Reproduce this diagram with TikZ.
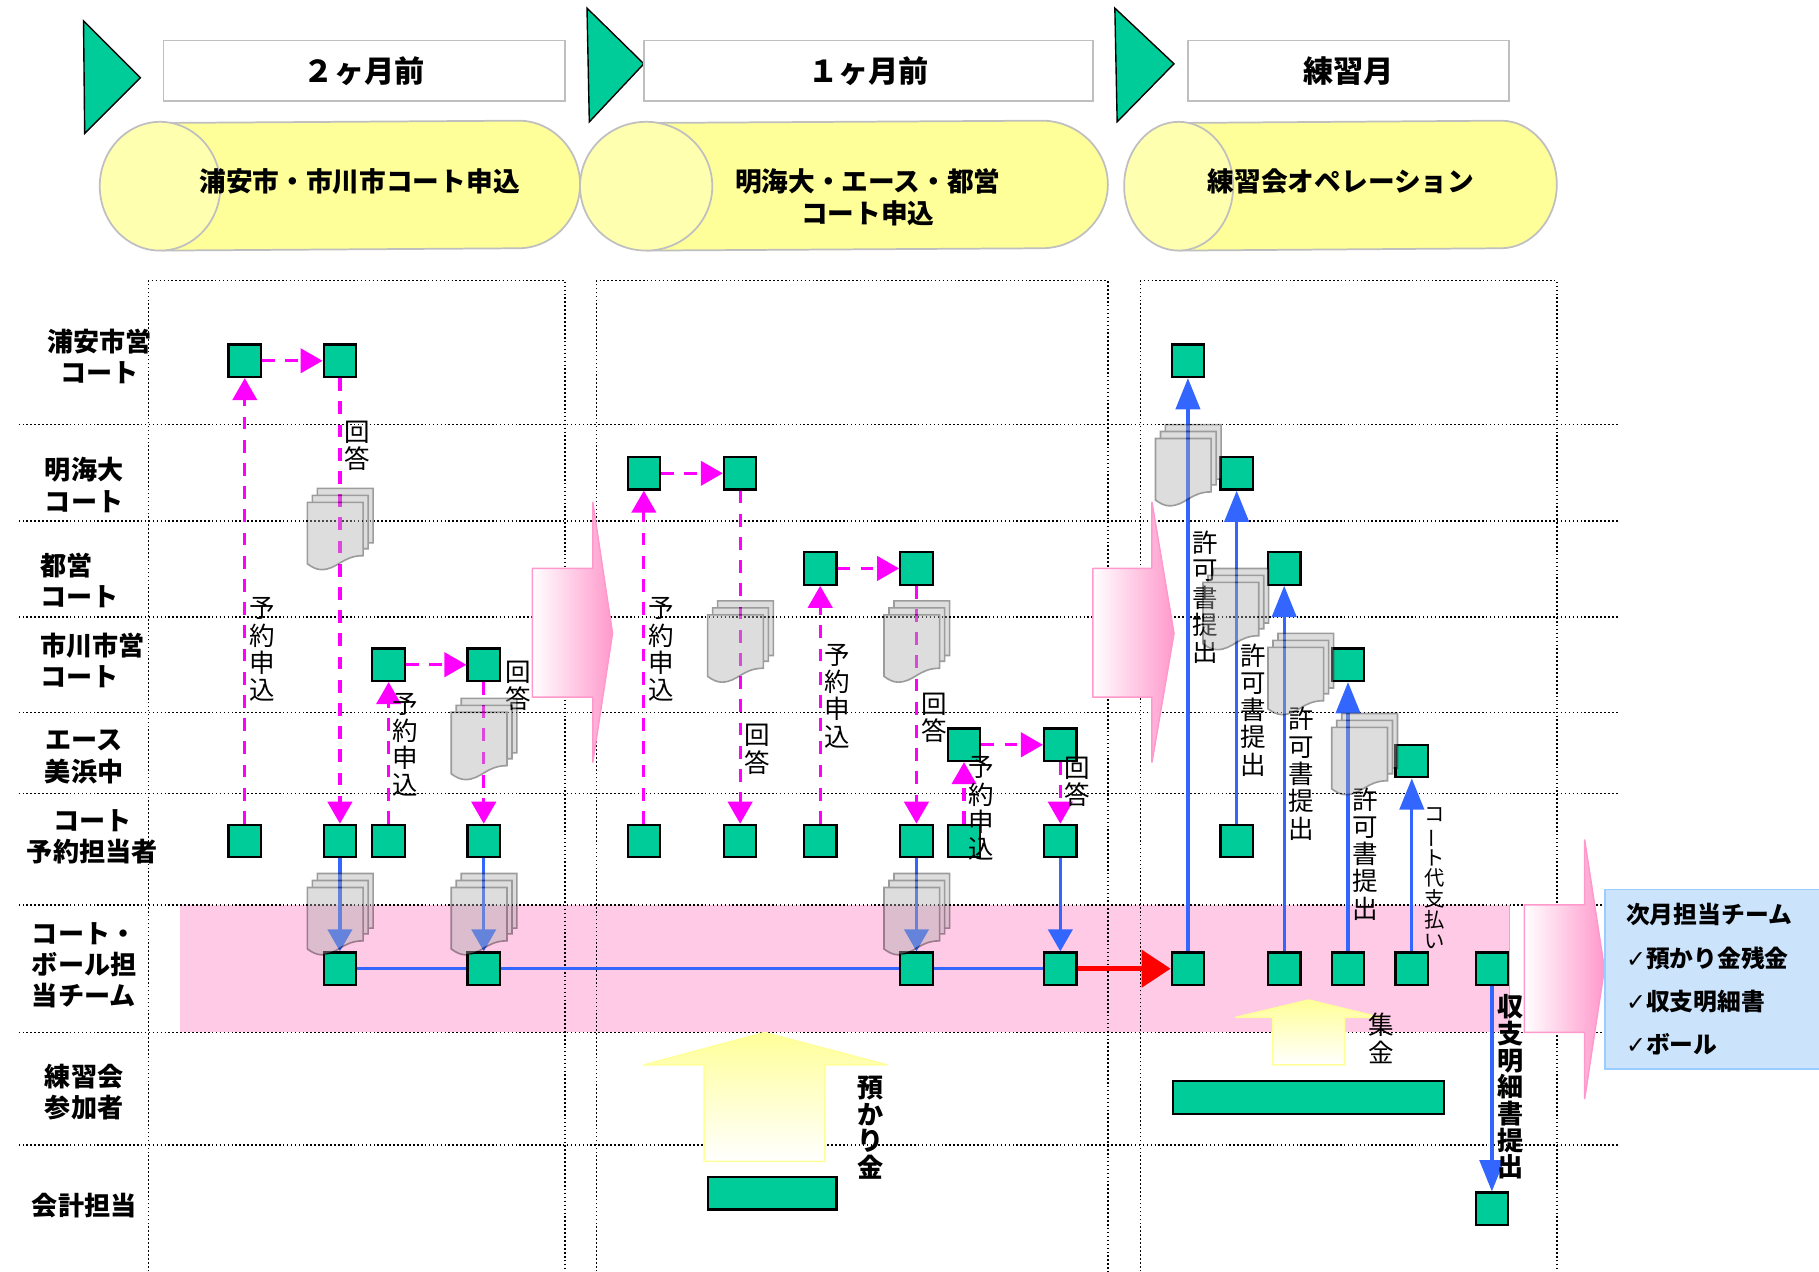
\documentclass[tikz,border=0pt]{standalone}
\usepackage{fontspec}
\setmainfont{Noto Sans CJK JP}
\newfontfamily\chkfont{DejaVu Sans}
\usetikzlibrary{arrows.meta}
\definecolor{sqgreen}{HTML}{00CC99}
\definecolor{magline}{HTML}{FF00FF}
\definecolor{blueline}{HTML}{3366FF}
\definecolor{pinkband}{HTML}{FFCAE6}
\definecolor{pinkedge}{HTML}{FF99CC}
\definecolor{cylfill}{HTML}{FFFF99}
\definecolor{capfill}{HTML}{FFFFB0}
\definecolor{teamfill}{HTML}{CBE4FC}
\definecolor{teamedge}{HTML}{99CCFF}
\begin{document}
\begin{tikzpicture}[x=1pt, y=-1pt,
    griddot/.style={line width=1.2pt, dash pattern=on 1.4pt off 2pt},
    sq/.style={draw=black, fill=sqgreen, line width=1.9pt, inner sep=0pt, minimum size=28pt},
    bar/.style={sq, minimum height=28pt},
    magarrow/.style={magline, line width=2.8pt, dash pattern=on 11pt off 9pt, -{Triangle[width=21pt,length=19pt]}},
    bluearrow/.style={blueline, line width=2.8pt, -{Triangle[width=21pt,length=19pt]}},
    bluetall/.style={blueline, line width=2.8pt, -{Triangle[width=21pt,length=27pt]}},
    blueplain/.style={blueline, line width=2.8pt},
    redarrow/.style={red, line width=3.8pt, -{Triangle[width=32pt,length=25pt]}},
    blockarrow/.style={draw=pinkedge, line width=1.3pt, line join=round, left color=white, right color=pinkedge},
    uparrow/.style={draw=cylfill, line width=1.3pt, line join=round, top color=cylfill, bottom color=white},
    flag/.style={draw=black, fill=sqgreen, line width=1.2pt},
    titlebox/.style={draw=black!25, line width=1.5pt, inner sep=0pt, minimum height=52pt, font=\fontsize{26}{30}\selectfont\bfseries},
    cylbody/.style={draw=black!25, fill=cylfill, line width=1.5pt},
    cylcap/.style={draw=black!25, fill=capfill, line width=1.5pt},
    cyltext/.style={inner sep=0pt, align=center, font=\fontsize{23}{27}\selectfont\bfseries},
    rowlab/.style={inner sep=0pt, font=\fontsize{22.5}{27}\selectfont\bfseries},
    vlab/.style={inner sep=0pt, align=center, font=\fontsize{22}{23.5}\selectfont},
    vbold/.style={vlab, font=\fontsize{22.5}{23}\selectfont\bfseries},
    vsmall/.style={vlab, font=\fontsize{17.5}{18}\selectfont},
    docstack/.pic={
        \begin{scope}[transparency group, opacity=.42]
        \filldraw[draw=black!93, fill=black!32, line width=1.4pt] (8.6,0) -- (56.6,0) -- (56.6,47) -- (8.6,47) -- cycle;
        \filldraw[draw=black!93, fill=black!32, line width=1.4pt] (4.3,6) -- (52.3,6) -- (52.3,52) -- (4.3,52) -- cycle;
        \filldraw[draw=black!93, fill=black!32, line width=1.4pt] (0,12) -- (48,12) -- (48,58) .. controls (30,58) and (26,70) .. (12,70) .. controls (8,70) and (4,68) .. (0,65) -- cycle;
        \end{scope}
    }]
\useasboundingbox (0,0) rectangle (1568,1096);
\fill[pinkband] (155,780) rectangle (1301,890);
\draw[griddot] (128,1096) -- (128,242) -- (487,242) -- (487,1096);
\draw[griddot] (514,1096) -- (514,242) -- (955,242) -- (955,1096);
\draw[griddot] (983,1096) -- (983,242) -- (1342,242) -- (1342,1096);
\draw[griddot] (16,366) -- (1396,366);
\draw[griddot] (16,449) -- (1396,449);
\draw[griddot] (16,532) -- (1396,532);
\draw[griddot] (16,614) -- (1396,614);
\draw[griddot] (16,684) -- (1396,684);
\draw[griddot] (16,780) -- (1396,780);
\draw[griddot] (16,890) -- (1396,890);
\draw[griddot] (16,987) -- (1396,987);
\draw[pinkedge, line width=.8pt] (1301,780) -- (1301,890);

\filldraw[flag] (72,18) -- (121,67) -- (73,115) -- cycle;
\filldraw[flag] (506,7) -- (555,55) -- (508,105) -- cycle;
\filldraw[flag] (961,7) -- (1012,55) -- (963,105) -- cycle;
\node[titlebox, minimum width=346pt] (when1) at (314,61) {\raisebox{-4pt}{２ヶ月前}};
\node[titlebox, minimum width=387pt] (when2) at (748.5,61) {\raisebox{-4pt}{１ヶ月前}};
\node[titlebox, minimum width=277pt] (when3) at (1162.5,61) {\raisebox{-4pt}{練習月}};

\filldraw[cylbody] (140,106) -- (447,104) .. controls (476,104) and (500,129) .. (500,159) .. controls (500,189) and (476,214) .. (447,214) -- (140,216) -- cycle;
\filldraw[cylcap] (138,160.5) ellipse (52 and 55.5);
\filldraw[cylbody] (557,106) -- (898,104) .. controls (929,104) and (955,129) .. (955,159) .. controls (955,189) and (929,214) .. (898,214) -- (557,216) -- cycle;
\filldraw[cylcap] (557,160.5) ellipse (57 and 55.5);
\filldraw[cylbody] (1016,106) -- (1294,104) .. controls (1320,104) and (1342,129) .. (1342,159) .. controls (1342,189) and (1320,214) .. (1294,214) -- (1016,216) -- cycle;
\filldraw[cylcap] (1016,160.5) ellipse (47 and 55.5);
\node[cyltext] (phase1) at (310,156) {浦安市・市川市コート申込};
\node[cyltext] (phase2) at (748,170) {明海大・エース・都営\\コート申込};
\node[cyltext] (phase3) at (1156,156) {練習会オペレーション};

\shade[blockarrow] (459,490) -- (511,490) -- (511,433) -- (528,546) -- (511,657) -- (511,601) -- (459,601) -- cycle;
\shade[blockarrow] (942,490) -- (993,490) -- (993,433) -- (1012,546) -- (993,657) -- (993,601) -- (942,601) -- cycle;
\shade[blockarrow] (1314,780) -- (1366,780) -- (1366,724) -- (1383,835) -- (1366,947) -- (1366,890) -- (1314,890) -- cycle;
\shade[uparrow] (659,890) -- (765,918) -- (711,918) -- (711,1001) -- (607,1001) -- (607,918) -- (555,918) -- cycle;
\shade[uparrow] (1128,862) -- (1190,877) -- (1159,877) -- (1159,918) -- (1097,918) -- (1097,877) -- (1065,877) -- cycle;

\node[rowlab, align=center] (row1) at (86,307.5) {浦安市営\\コート};
\node[rowlab, align=center] (row2) at (72.5,418) {明海大\\コート};
\node[rowlab, align=left] (row3) at (68.5,500.5) {都営\\コート};
\node[rowlab, align=left] (row4) at (80,569.5) {市川市営\\コート};
\node[rowlab, align=center] (row5) at (72.5,652.5) {エース\\美浜中};
\node[rowlab, align=center] (row6) at (79.5,721.5) {コート\\予約担当者};
\node[rowlab, align=left] (row7) at (72.5,832) {コート・\\ボール担\\当チーム};
\node[rowlab, align=center] (row8) at (72.5,941.5) {練習会\\参加者};
\node[rowlab] (row9) at (72.5,1039) {会計担当};

\node[sq] (ura1) at (211,311) {};
\node[sq] (ura2) at (293,311) {};
\node[sq] (ura3) at (1024,311) {};
\node[sq] (mei1) at (555,408) {};
\node[sq] (mei2) at (638,408) {};
\node[sq] (mei3) at (1066,408) {};
\node[sq] (tok1) at (707,490) {};
\node[sq] (tok2) at (790,490) {};
\node[sq] (tok3) at (1107,490) {};
\node[sq] (ich1) at (335,573) {};
\node[sq] (ich2) at (417,573) {};
\node[sq] (ich3) at (1162,573) {};
\node[sq] (ace1) at (831,642) {};
\node[sq] (ace2) at (914,642) {};
\node[sq] (ace3) at (1217,656) {};
\node[sq] (yak1) at (211,725) {};
\node[sq] (yak2) at (293,725) {};
\node[sq] (yak3) at (335,725) {};
\node[sq] (yak4) at (417,725) {};
\node[sq] (yak5) at (555,725) {};
\node[sq] (yak6) at (638,725) {};
\node[sq] (yak7) at (707,725) {};
\node[sq] (yak8) at (790,725) {};
\node[sq] (yak9) at (831,725) {};
\node[sq] (yak10) at (914,725) {};
\node[sq] (yak11) at (1066,725) {};
\node[sq] (tea1) at (293,835) {};
\node[sq] (tea2) at (417,835) {};
\node[sq] (tea3) at (790,835) {};
\node[sq] (tea4) at (914,835) {};
\node[sq] (tea5) at (1024,835) {};
\node[sq] (tea6) at (1107,835) {};
\node[sq] (tea7) at (1162,835) {};
\node[sq] (tea8) at (1217,835) {};
\node[sq] (tea9) at (1286,835) {};
\node[sq] (kai1) at (1286,1042) {};
\node[bar, minimum width=111pt] (mem1) at (665.5,1028.5) {};
\node[bar, minimum width=234pt] (mem2) at (1128,946) {};

\draw[magarrow] (yak1) -- (ura1);
\draw[magarrow] (ura1) -- (ura2);
\draw[magarrow] (ura2) -- (yak2);
\draw[magarrow] (yak3) -- (ich1);
\draw[magarrow] (ich1) -- (ich2);
\draw[magarrow] (ich2) -- (yak4);
\draw[magarrow] (yak5) -- (mei1);
\draw[magarrow] (mei1) -- (mei2);
\draw[magarrow] (mei2) -- (yak6);
\draw[magarrow] (yak7) -- (tok1);
\draw[magarrow] (tok1) -- (tok2);
\draw[magarrow] (tok2) -- (yak8);
\draw[magarrow] (yak9) -- (ace1);
\draw[magarrow] (ace1) -- (ace2);
\draw[magarrow] (ace2) -- (yak10);
\draw[bluearrow] (yak2) -- (tea1);
\draw[bluearrow] (yak4) -- (tea2);
\draw[bluearrow] (yak8) -- (tea3);
\draw[bluearrow] (yak10) -- (tea4);
\draw[blueplain] (tea1) -- (tea2);
\draw[blueplain] (tea2) -- (tea3);
\draw[blueplain] (tea3) -- (tea4);
\draw[redarrow] (tea4) -- (tea5);
\draw[bluetall] (tea5) -- (ura3);
\draw[bluetall] (yak11) -- (mei3);
\draw[bluetall] (tea6) -- (tok3);
\draw[bluetall] (tea7) -- (ich3);
\draw[bluetall] (tea8) -- (ace3);
\draw[bluetall] (tea9) -- (kai1);

\node[vlab] (req1) at (226,560) {予\\約\\申\\込};
\node[vlab] (req2) at (349,642) {予\\約\\申\\込};
\node[vlab] (req3) at (570,560) {予\\約\\申\\込};
\node[vlab] (req4) at (722,600) {予\\約\\申\\込};
\node[vlab] (req5) at (846,697) {予\\約\\申\\込};
\node[vlab] (ans1) at (308,384) {回\\答};
\node[vlab] (ans2) at (447,591) {回\\答};
\node[vlab] (ans3) at (653,646) {回\\答};
\node[vlab] (ans4) at (805,619) {回\\答};
\node[vlab] (ans5) at (929,674) {回\\答};
\node[vlab] (lic1) at (1039,515) {許\\可\\書\\提\\出};
\node[vlab] (lic2) at (1080,612) {許\\可\\書\\提\\出};
\node[vlab] (lic3) at (1122,667) {許\\可\\書\\提\\出};
\node[vlab] (lic4) at (1177,736) {許\\可\\書\\提\\出};
\node[vsmall] (fee1) at (1237,757) {コ\\\rotatebox[origin=c]{90}{ー}\\ト\\代\\支\\払\\い};
\node[vlab] (col1) at (1191,895) {集\\金};
\node[vbold] (dep1) at (750,972) {預\\か\\り\\金};
\node[vbold] (rep1) at (1302,937) {収\\支\\明\\細\\書\\提\\出};

\node[draw=teamedge, fill=teamfill, line width=1.5pt, anchor=north west, minimum width=200pt, minimum height=155pt, inner xsep=18pt, inner ysep=0pt, text width=164pt, align=left, font=\fontsize{20.5}{37.3}\selectfont\bfseries] (next1) at (1383,766) {次月担当チーム\\{\chkfont ✓}預かり金残金\\{\chkfont ✓}収支明細書\\{\chkfont ✓}ボール};

\pic (doc1) at (265,421) {docstack};
\pic (doc2) at (389,602) {docstack};
\pic (doc3) at (265,753) {docstack};
\pic (doc4) at (389,753) {docstack};
\pic (doc5) at (610,518) {docstack};
\pic (doc6) at (762,518) {docstack};
\pic (doc7) at (762,753) {docstack};
\pic (doc8) at (996,366) {docstack};
\pic (doc9) at (1037,490) {docstack};
\pic (doc10) at (1093,546) {docstack};
\pic (doc11) at (1148,615) {docstack};
\end{tikzpicture}
\end{document}
